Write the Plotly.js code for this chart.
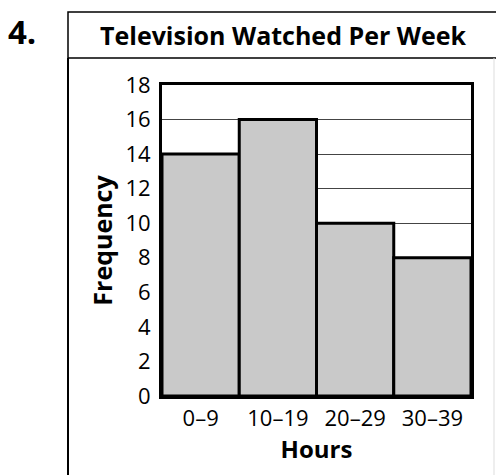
<!DOCTYPE html>
<html>
<head>
<meta charset="utf-8">
<script src="https://cdn.plot.ly/plotly-3.0.1.min.js"></script>
<style>html,body{margin:0;padding:0;background:#fff;}#chart{width:496px;height:475px;}</style>
</head>
<body>
<div id="chart"></div>
<script>
const categories = ["0–9", "10–19", "20–29", "30–39"];
const frequency = [14, 16, 10, 8];
const yTicks = [0, 2, 4, 6, 8, 10, 12, 14, 16, 18];

const W = 496, H = 475;
const L = 162, R = 471, T = 85, B = 396;
const pw = R - L, ph = B - T;
const px = x => (x - L) / pw;
const py = y => (B - y) / ph;

const trace = {
  type: 'bar',
  x: categories,
  y: frequency,
  width: 1,
  marker: { color: '#c9c9c9', line: { color: '#000', width: 3 } },
  hoverinfo: 'none'
};

const layout = {
  width: W, height: H,
  margin: { l: L, r: W - R, t: T, b: H - B, pad: 0 },
  paper_bgcolor: '#fff', plot_bgcolor: '#fff',
  showlegend: false,
  bargap: 0,
  font: { family: 'Open Sans, sans-serif', color: '#000' },
  xaxis: {
    type: 'category',
    range: [-0.5, 3.5],
    showline: true, linecolor: '#000', linewidth: 3, mirror: true,
    showgrid: false, zeroline: false,
    ticks: '', ticklabelstandoff: 1,
    tickfont: { size: 22, family: 'Open Sans, sans-serif', color: '#000' },
    title: { text: 'Hours', font: { size: 24, family: 'Open Sans, sans-serif', weight: 700, color: '#000' }, standoff: 2 }
  },
  yaxis: {
    range: [0, 18],
    tickvals: yTicks,
    ticktext: yTicks.map(String),
    showline: true, linecolor: '#000', linewidth: 3, mirror: true,
    showgrid: true, gridcolor: '#444', gridwidth: 1,
    zeroline: false,
    ticks: '', ticklabelstandoff: 4,
    tickfont: { size: 22, family: 'Open Sans, sans-serif', color: '#000' },
    title: { text: 'Frequency', font: { size: 25, family: 'Open Sans, sans-serif', weight: 700, color: '#000' }, standoff: 6 }
  },
  shapes: [
    { type: 'rect', xref: 'paper', yref: 'paper', x0: px(68), x1: px(497), y0: py(58), y1: py(12),
      line: { color: '#000', width: 1.5 }, fillcolor: 'rgba(0,0,0,0)' },
    { type: 'line', xref: 'paper', yref: 'paper', x0: px(68), x1: px(68), y0: py(58), y1: py(476),
      line: { color: '#000', width: 2 } },
    { type: 'line', xref: 'paper', yref: 'paper', x0: px(494), x1: px(494), y0: py(58), y1: py(476),
      line: { color: '#ddd', width: 1 } }
  ],
  annotations: [
    { xref: 'paper', yref: 'paper', x: px(283), y: py(35), text: '<b>Television Watched Per Week</b>',
      showarrow: false, xanchor: 'center', yanchor: 'middle',
      font: { size: 25, family: 'Open Sans, sans-serif', color: '#000' } },
    { xref: 'paper', yref: 'paper', x: px(6), y: py(32), text: '<b>4.</b>',
      showarrow: false, xanchor: 'left', yanchor: 'middle',
      font: { size: 33, family: 'Open Sans, sans-serif', color: '#000' } }
  ]
};

Plotly.newPlot('chart', [trace], layout, { staticPlot: true, displayModeBar: false });
</script>
</body>
</html>
